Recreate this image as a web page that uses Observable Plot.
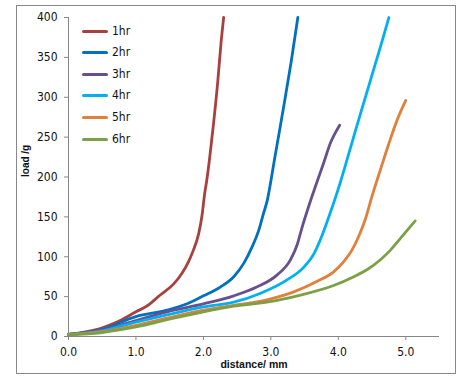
<!DOCTYPE html>
<html>
<head>
<meta charset="utf-8">
<script src="https://cdn.jsdelivr.net/npm/d3@7"></script>
<script src="https://cdn.jsdelivr.net/npm/@observablehq/plot@0.6"></script>
<style>
  body { margin: 0; background: #fff; }
  #wrap { position: relative; width: 471px; height: 384px; }
  #border { position: absolute; left: 16px; top: 5px; width: 438px; height: 367px; border: 1px solid #888; pointer-events: none; }
  #legend { position: absolute; left: 82px; top: 20px; font-family: "DejaVu Sans Condensed", "DejaVu Sans", sans-serif; font-size: 12px; color: #111; }
  .row { position: absolute; left: 0; height: 14px; white-space: nowrap; }
  .sw { position: absolute; left: 0; top: 5px; width: 26px; height: 3px; border-radius: 2px; }
  .lb { position: absolute; left: 30px; top: -1px; }
</style>
</head>
<body>
<div id="wrap"><div id="chart"></div><div id="border"></div><div id="legend"></div></div>
<script>
const seriesNames = ["1hr", "2hr", "3hr", "4hr", "5hr", "6hr"];
const seriesColors = ["#A8413E", "#0070C0", "#68508F", "#00B0F0", "#E0803A", "#7BA046"];

const hr1X = [0, 0.47, 0.72, 1.0, 1.16, 1.36, 1.56, 1.68, 1.78, 1.85, 1.93, 1.98, 2.02, 2.05, 2.09, 2.15, 2.21, 2.26, 2.30];
const hr1Y = [2.5, 10, 18, 31, 38, 52, 66, 79, 94, 108, 129, 152, 180, 196, 222, 267, 317, 367, 400];

const hr2X = [0, 0.5, 1.0, 1.46, 1.76, 2.0, 2.25, 2.45, 2.6, 2.72, 2.82, 2.89, 2.95, 2.99, 3.05, 3.12, 3.2, 3.3, 3.40];
const hr2Y = [2.5, 9, 25, 33, 41, 51, 62, 75, 92, 112, 133, 154, 172, 190, 220, 254, 293, 344, 400];

const hr3X = [0, 0.5, 1.0, 1.46, 2.0, 2.45, 2.79, 3.09, 3.29, 3.39, 3.46, 3.56, 3.66, 3.78, 3.88, 4.02];
const hr3Y = [2.5, 8, 20, 31, 41, 51, 62, 77, 96, 115, 136, 163, 188, 217, 242, 265];

const hr4X = [0, 0.5, 1.0, 1.46, 2.0, 2.45, 2.84, 3.24, 3.49, 3.64, 3.76, 3.88, 4.01, 4.13, 4.25, 4.38, 4.50, 4.62, 4.75];
const hr4Y = [2.5, 7, 18, 27, 37, 43, 54, 71, 87, 104, 127, 155, 188, 222, 257, 294, 328, 362, 400];

const hr5X = [0, 0.5, 1.0, 1.46, 2.0, 2.45, 2.94, 3.34, 3.68, 3.93, 4.08, 4.2, 4.30, 4.40, 4.50, 4.62, 4.75, 4.87, 5.0];
const hr5Y = [2.5, 6, 14, 23, 33, 39, 46, 56, 69, 81, 94, 108, 125, 147, 176, 208, 242, 271, 296];

const hr6X = [0, 0.5, 1.0, 1.46, 2.0, 2.45, 2.94, 3.44, 3.93, 4.23, 4.43, 4.62, 4.77, 4.92, 5.14];
const hr6Y = [2, 5, 12, 21, 31, 38, 43, 52, 64, 75, 84, 96, 108, 123, 145];

const xTicks = [0, 1, 2, 3, 4, 5];
const yTicks = [0, 50, 100, 150, 200, 250, 300, 350, 400];
const xTitle = ["distance/ mm"];
const yTitle = ["load /g"];

const allX = [hr1X, hr2X, hr3X, hr4X, hr5X, hr6X];
const allY = [hr1Y, hr2Y, hr3Y, hr4Y, hr5Y, hr6Y];
const rows = [];
seriesNames.forEach((s, i) => allX[i].forEach((x, j) => rows.push({series: s, x, y: allY[i][j]})));

const chart = Plot.plot({
  width: 471,
  height: 384,
  marginLeft: 68,
  marginTop: 17,
  marginRight: 32,
  marginBottom: 48,
  style: {fontFamily: "'DejaVu Sans Condensed', 'DejaVu Sans', sans-serif", fontSize: "12px", color: "#111", background: "transparent"},
  x: {domain: [0, 5.5]},
  y: {domain: [0, 400]},
  color: {domain: seriesNames, range: seriesColors},
  marks: [
    Plot.axisX({ticks: xTicks, tickFormat: d => d.toFixed(1), tickSize: 4, tickPadding: 7, stroke: "#868686", fill: "#111", label: null}),
    Plot.axisY({ticks: yTicks, tickSize: 4, tickPadding: 7, stroke: "#868686", fill: "#111", label: null}),
    Plot.ruleY([0], {stroke: "#868686"}),
    Plot.ruleX([0], {stroke: "#868686"}),
    Plot.line(rows, {x: "x", y: "y", z: "series", stroke: "series", strokeWidth: 2.8, strokeLinecap: "round", strokeLinejoin: "round", curve: "monotone-x"}),
    Plot.text(xTitle, {text: d => d, frameAnchor: "bottom", dy: 31, fontWeight: "bold", fontSize: 10.5, fontFamily: "'Liberation Sans', Arial, sans-serif", fill: "#111"}),
    Plot.text(yTitle, {text: d => d, frameAnchor: "left", dx: -43, rotate: -90, fontWeight: "bold", fontSize: 10, fontFamily: "'Liberation Sans Narrow', 'Liberation Sans', Arial, sans-serif", fill: "#111"})
  ]
});
document.getElementById("chart").appendChild(chart);

const legend = document.getElementById("legend");
const rowTops = [0, 21.6, 43.2, 64.8, 86.4, 108];
seriesNames.forEach((s, i) => {
  const r = document.createElement("div");
  r.className = "row";
  r.style.top = (rowTops[i] + 4.5) + "px";
  const sw = document.createElement("div");
  sw.className = "sw";
  sw.style.background = seriesColors[i];
  const lb = document.createElement("div");
  lb.className = "lb";
  lb.textContent = s;
  r.appendChild(sw); r.appendChild(lb);
  legend.appendChild(r);
});
</script>
</body>
</html>
